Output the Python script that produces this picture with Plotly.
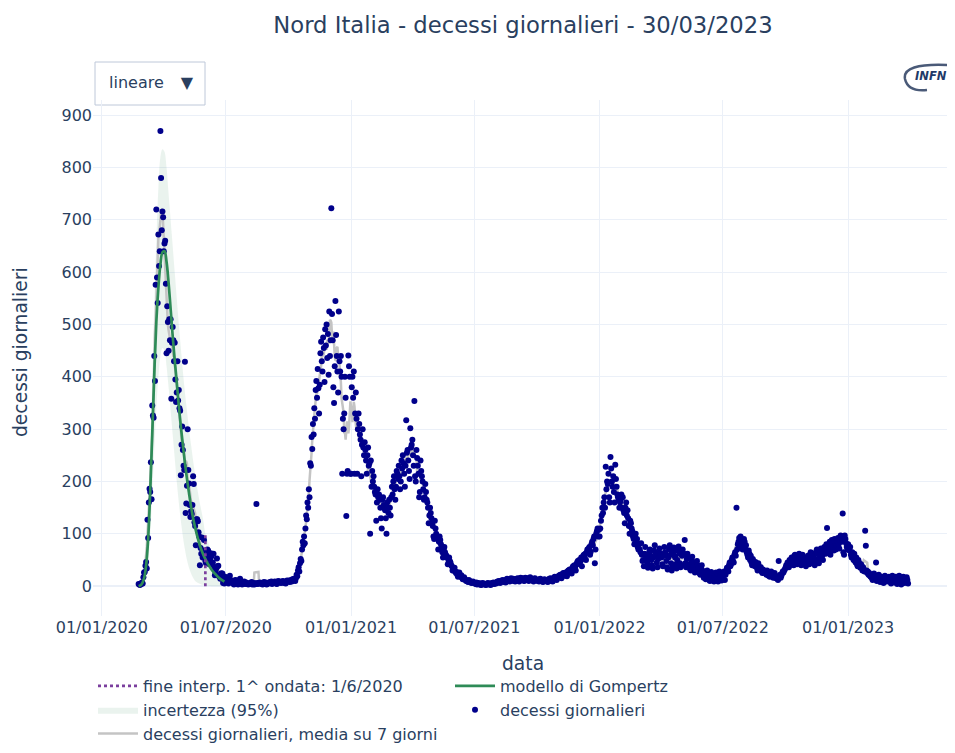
import pandas as pd
import plotly.graph_objects as go

# ---------------- daily deaths, Nord Italia ----------------
feb20 = [4, 3, 2, 5, 4, 7]
mar20 = [5, 17, 26, 27, 39, 46, 34, 127, 92, 160, 186, 180, 237, 166, 345, 326, 322, 440, 392, 576,
         720, 590, 541, 672, 612, 640, 870, 780, 680, 716, 705]
apr20 = [640, 655, 660, 578, 445, 535, 505, 450, 510, 470, 510, 358, 465, 495, 470, 430, 465, 395, 352, 370,
         430, 355, 375, 340, 335, 212, 270, 305, 260, 230]
may20 = [222, 429, 140, 158, 192, 300, 222, 196, 155, 132, 143, 138, 155, 210, 195, 122, 115, 78, 128, 128,
         124, 103, 95, 40, 73, 62, 93, 55, 68, 88, 59]
jun20 = [48, 44, 57, 70, 68, 58, 42, 52, 63, 57, 42, 45, 62, 35, 21, 27, 34, 53, 38, 39,
         19, 18, 14, 24, 24, 24, 6, 18, 5, 18]
jul20 = [15, 13, 10, 12, 5, 8, 20, 12, 10, 9, 7, 5, 3, 10, 12, 11, 8, 9, 3, 9, 12, 14, 8, 9, 3, 4, 5, 9, 7, 4, 7]
aug20 = [5, 4, 3, 4, 6, 5, 4, 8, 3, 4, 6, 3, 5, 4, 157, 6, 4, 5, 6, 7, 5, 6, 4, 3, 5, 8, 6, 4, 7, 3, 5]
sep20 = [6, 5, 7, 8, 6, 9, 4, 7, 8, 6, 9, 7, 5, 4, 8, 10, 7, 9, 8, 6, 7, 9, 10, 8, 6, 7, 5, 9, 11, 10]
oct20 = [9, 11, 8, 10, 12, 9, 13, 11, 14, 12, 10, 15, 22, 19, 30, 36, 28, 44, 52, 48,
         70, 85, 78, 95, 82, 110, 135, 128, 160, 150, 185]
nov20 = [170, 235, 230, 285, 262, 310, 290, 340, 320, 375, 392, 360, 415, 378, 330, 385, 445, 467, 430, 410,
         475, 455, 390, 491, 460, 500, 436, 482, 404, 525]
dec20 = [440, 470, 722, 520, 470, 380, 350, 420, 545, 480, 440, 410, 370, 525, 430, 410, 440, 400, 215, 320,
         300, 330, 400, 360, 134, 215, 220, 441, 420, 400, 215]
jan21 = [215, 380, 400, 360, 410, 215, 330, 370, 320, 215, 300, 330, 310, 290, 280, 210, 270, 300, 265, 250,
         275, 260, 240, 215, 250, 265, 230, 235, 100, 240, 190]
feb21 = [220, 200, 210, 190, 180, 175, 125, 160, 185, 170, 175, 165, 150, 130, 110, 165, 170, 155, 150, 145,
         130, 100, 160, 150, 140, 165, 150, 135]
mar21 = [170, 190, 175, 200, 210, 185, 165, 190, 220, 215, 205, 230, 210, 185, 200, 240, 225, 250, 235, 215,
         190, 230, 317, 255, 260, 240, 220, 205, 302, 265, 270]
apr21 = [280, 250, 230, 354, 210, 200, 260, 245, 230, 215, 170, 180, 240, 220, 210, 200, 185, 165, 170, 195,
         180, 165, 160, 150, 120, 135, 150, 140, 130, 120]
may21 = [115, 95, 90, 125, 110, 100, 95, 90, 70, 85, 95, 88, 80, 75, 65, 55, 70, 75, 65, 60,
         58, 55, 42, 50, 55, 48, 45, 40, 38, 30, 35]
jun21 = [30, 35, 28, 25, 27, 22, 18, 24, 26, 20, 18, 21, 16, 13, 15, 17, 14, 12, 10, 11, 9, 8, 12, 10, 9, 7, 6, 8, 9, 7]
jul21 = [6, 5, 4, 7, 3, 5, 6, 4, 3, 5, 2, 3, 6, 4, 5, 3, 4, 2, 3, 5, 6, 4, 3, 5, 2, 4, 6, 5, 7, 4, 5]
aug21 = [6, 5, 8, 9, 7, 10, 8, 6, 9, 11, 10, 12, 9, 8, 11, 7, 12, 14, 10, 13, 11, 9, 12, 15, 13, 11, 14, 10, 12, 9, 13]
sep21 = [14, 12, 15, 11, 9, 13, 16, 14, 12, 15, 13, 10, 11, 16, 14, 13, 15, 12, 10, 14, 17, 15, 13, 12, 11, 9, 14, 15, 13, 12]
oct21 = [12, 10, 11, 9, 13, 14, 12, 10, 9, 8, 11, 13, 10, 12, 11, 9, 8, 12, 14, 13, 15, 11, 10, 9, 14, 16, 18, 15, 13, 12, 17]
nov21 = [16, 20, 18, 22, 19, 15, 21, 24, 25, 22, 20, 26, 23, 19, 28, 30, 27, 32, 29, 25, 24, 35, 38, 33, 40, 36, 30, 42, 45, 48]
dec21 = [45, 50, 42, 48, 55, 38, 52, 58, 60, 55, 62, 50, 65, 70, 68, 72, 75, 60, 66, 80,
         85, 78, 90, 95, 44, 70, 100, 105, 110, 95, 108]
jan22 = [95, 110, 125, 135, 150, 140, 160, 170, 150, 228, 185, 200, 195, 215, 170, 160, 247, 225, 200, 190,
         210, 180, 160, 232, 205, 190, 175, 170, 165, 150, 160]
feb22 = [165, 175, 150, 170, 145, 140, 120, 150, 160, 135, 145, 130, 115, 100, 125, 120, 110, 105, 95, 90,
         80, 94, 100, 85, 90, 75, 70, 80]
mar22 = [70, 65, 82, 60, 48, 50, 38, 62, 75, 58, 52, 44, 35, 55, 66, 70, 58, 50, 40, 34,
         55, 68, 78, 64, 57, 45, 36, 52, 64, 72, 58]
apr22 = [62, 55, 42, 38, 58, 75, 65, 60, 48, 36, 32, 55, 70, 78, 60, 44, 30, 36, 66, 74,
         58, 55, 42, 34, 50, 68, 76, 62, 44, 36]
may22 = [40, 58, 70, 60, 62, 88, 44, 36, 52, 62, 55, 42, 38, 32, 30, 50, 56, 45, 38, 32,
         26, 30, 46, 48, 40, 32, 28, 24, 22, 36, 40]
jun22 = [30, 22, 16, 25, 20, 13, 24, 30, 22, 16, 12, 10, 20, 27, 22, 15, 11, 9, 15, 22, 26, 18, 13, 9, 22, 28, 20, 15, 11, 18]
jul22 = [20, 25, 28, 12, 22, 30, 35, 32, 28, 40, 45, 38, 42, 50, 55, 48, 45, 60, 65, 58,
         150, 70, 80, 85, 92, 75, 95, 88, 78, 70, 82]
aug22 = [90, 85, 72, 78, 65, 60, 55, 68, 62, 50, 58, 45, 40, 52, 48, 42, 38, 46, 40, 35,
         30, 44, 38, 34, 30, 36, 28, 25, 32, 30, 26]
sep22 = [28, 24, 22, 30, 26, 20, 25, 18, 22, 28, 24, 20, 16, 22, 25, 18, 15, 19, 14, 12,
         48, 18, 22, 16, 20, 24, 28, 26, 30, 32]
oct22 = [35, 40, 38, 45, 42, 36, 50, 48, 44, 55, 52, 46, 40, 58, 60, 54, 48, 42, 50, 56,
         62, 58, 45, 40, 52, 60, 48, 55, 50, 44, 38]
nov22 = [45, 52, 58, 48, 42, 60, 65, 55, 50, 62, 58, 45, 40, 52, 66, 70, 62, 48, 44, 55,
         68, 72, 60, 58, 50, 65, 75, 70, 62, 80]
dec22 = [111, 70, 65, 78, 85, 60, 72, 88, 80, 75, 68, 90, 82, 70, 78, 85, 92, 80, 72, 88,
         97, 95, 85, 139, 65, 60, 97, 90, 82, 75, 70]
jan23 = [80, 72, 68, 75, 60, 55, 65, 58, 50, 62, 48, 45, 55, 42, 38, 50, 45, 40, 35, 42,
         38, 30, 36, 32, 28, 106, 77, 30, 25, 28, 22]
feb23 = [25, 20, 18, 22, 15, 12, 20, 24, 18, 14, 45, 10, 16, 20, 22, 14, 8, 12, 18, 15, 10, 6, 14, 20, 16, 12, 9, 15]
mar23 = [12, 18, 14, 8, 5, 15, 20, 16, 10, 7, 12, 18, 14, 4, 9, 16, 20, 12, 8, 3, 10, 15, 18, 11, 6, 8, 14, 17, 12, 5]

month_starts = ["2020-02-24", "2020-03-01", "2020-04-01", "2020-05-01", "2020-06-01", "2020-07-01",
                "2020-08-01", "2020-09-01", "2020-10-01", "2020-11-01", "2020-12-01", "2021-01-01",
                "2021-02-01", "2021-03-01", "2021-04-01", "2021-05-01", "2021-06-01", "2021-07-01",
                "2021-08-01", "2021-09-01", "2021-10-01", "2021-11-01", "2021-12-01", "2022-01-01",
                "2022-02-01", "2022-03-01", "2022-04-01", "2022-05-01", "2022-06-01", "2022-07-01",
                "2022-08-01", "2022-09-01", "2022-10-01", "2022-11-01", "2022-12-01", "2023-01-01",
                "2023-02-01", "2023-03-01"]
month_values = [feb20, mar20, apr20, may20, jun20, jul20, aug20, sep20, oct20, nov20, dec20,
                jan21, feb21, mar21, apr21, may21, jun21, jul21, aug21, sep21, oct21, nov21, dec21,
                jan22, feb22, mar22, apr22, may22, jun22, jul22, aug22, sep22, oct22, nov22, dec22,
                jan23, feb23, mar23]

# ---------------- Gompertz model (first wave) ----------------
model_dates = ["2020-02-24", "2020-02-28", "2020-03-03", "2020-03-06", "2020-03-09", "2020-03-12",
               "2020-03-15", "2020-03-18", "2020-03-21", "2020-03-24", "2020-03-27", "2020-03-30",
               "2020-04-02", "2020-04-05", "2020-04-08", "2020-04-11", "2020-04-14", "2020-04-17",
               "2020-04-20", "2020-04-23", "2020-04-26", "2020-04-29", "2020-05-02", "2020-05-05",
               "2020-05-08", "2020-05-11", "2020-05-14", "2020-05-17", "2020-05-20", "2020-05-23",
               "2020-05-26", "2020-05-29", "2020-06-01", "2020-06-05", "2020-06-10", "2020-06-15",
               "2020-06-20", "2020-06-25", "2020-06-29"]
model_values = [0, 3, 15, 40, 90, 180, 290, 405, 505, 570, 615, 638, 640, 620, 580, 530, 478, 432, 390, 345,
                305, 270, 235, 205, 178, 152, 130, 112, 96, 82, 70, 60, 52, 42, 32, 24, 17, 12, 9]
band_upper = [0, 6, 30, 70, 140, 260, 400, 540, 660, 760, 820, 835, 830, 800, 750, 700, 650, 600, 550, 500,
              455, 410, 370, 335, 300, 270, 240, 212, 188, 165, 145, 125, 100, 85, 65, 48, 35, 25, 19]
band_lower = [0, 1, 6, 18, 45, 100, 175, 260, 340, 400, 440, 455, 450, 420, 380, 335, 290, 245, 200, 160,
              125, 95, 70, 50, 35, 24, 16, 10, 7, 5, 3, 2, 1, 1, 0, 0, 0, 0, 0]
fit_end_date = "2020-06-01"

# ---------------- build series ----------------
dates, vals = [], []
for start, arr in zip(month_starts, month_values):
    ts = pd.Timestamp(start)
    n = ts.days_in_month - ts.day + 1
    arr = arr[:n]
    dates.extend(pd.date_range(ts, periods=len(arr), freq="D"))
    vals.extend(arr)
daily = pd.Series(vals, index=pd.DatetimeIndex(dates), dtype=float)
daily = daily[~daily.index.duplicated()]
avg7 = daily.rolling(7, center=True).mean()

fit_end_top = band_upper[model_dates.index(fit_end_date)]

FONT = "DejaVu Sans"
TXT = "#2a3f5f"
OFF = 8  # page body margin
# plot area in page pixels: x 93..953, y 100..616
PL, PR, PT, PB = 93, 953, 100, 616
L, R, T, B = PL - OFF, PR - OFF, PT - OFF, PB - OFF
def px(x):
    return (x - PL) / (PR - PL)
def py(y):
    return (PB - y) / (PB - PT)

fig = go.Figure()

fig.add_trace(go.Scatter(
    x=model_dates + model_dates[::-1], y=band_upper + band_lower[::-1],
    fill="toself", fillcolor="rgba(46,139,87,0.10)", line=dict(width=0, shape="spline"),
    mode="lines", name="incertezza (95%)", legendrank=3, hoverinfo="skip"))

fig.add_trace(go.Scatter(
    x=avg7.index, y=avg7.values, mode="lines", name="decessi giornalieri, media su 7 giorni",
    line=dict(color="#C4C4C4", width=2.5), legendrank=5))

fig.add_trace(go.Scatter(
    x=daily.index, y=daily.values, mode="markers", name="decessi giornalieri",
    marker=dict(color="#00008B", size=6), legendrank=4))

fig.add_trace(go.Scatter(
    x=model_dates, y=model_values, mode="lines", name="modello di Gompertz",
    line=dict(color="#2E8B57", width=2.7, shape="spline"), legendrank=2))

fig.add_trace(go.Scatter(
    x=[fit_end_date, fit_end_date], y=[0, fit_end_top], mode="lines",
    name="fine interp. 1^ ondata: 1/6/2020",
    line=dict(color="#7B3F9E", width=2.7, dash="dot"), legendrank=1))

fig.update_layout(
    template="plotly_white",
    width=955, height=753,
    margin=dict(l=L, r=955 - R, t=T, b=753 - B, autoexpand=False),
    font=dict(family=FONT, size=16, color=TXT),
    title=dict(text="Nord Italia - decessi giornalieri - 30/03/2023", xref="paper", x=0.5,
               xanchor="center", yref="container", y=1 - 17 / 753, yanchor="middle",
               font=dict(size=22.7, family=FONT)),
    legend=dict(orientation="h", x=0, xanchor="left", y=py(669), yanchor="top",
                font=dict(size=16, family=FONT), traceorder="normal", itemwidth=40,
                entrywidth=302, entrywidthmode="pixels"),
    updatemenus=[dict(
        type="dropdown", direction="down", active=0, showactive=True,
        x=px(97), xanchor="left", y=py(67.5), yanchor="top", pad=dict(l=0, r=0, t=0, b=0),
        bgcolor="rgba(255,255,255,0)", bordercolor="rgba(0,0,0,0)", borderwidth=0,
        font=dict(size=16, family=FONT),
        buttons=[dict(label="lineare\u00a0", method="relayout", args=[{"yaxis.type": "linear"}]),
                 dict(label="log", method="relayout", args=[{"yaxis.type": "log"}])])],
    shapes=[dict(type="rect", xref="paper", yref="paper", x0=px(95), x1=px(205), y0=py(105), y1=py(62),
                 line=dict(color="#BEC8D9", width=1), fillcolor="white", layer="below")],
)

fig.update_xaxes(
    type="date", range=["2019-12-19", "2023-06-04"], automargin=False,
    tick0="2020-01-01", dtick="M6", tickformat="%d/%m/%Y",
    tickfont=dict(size=16), showgrid=True, gridcolor="#EBF0F8")
fig.update_yaxes(
    range=[-57, 929], dtick=100, tickfont=dict(size=16), automargin=False,
    gridcolor="#EBF0F8", zerolinecolor="#EBF0F8")

# axis titles
fig.add_annotation(text="data", xref="paper", yref="paper", x=0.5, y=py(663),
                   xanchor="center", yanchor="middle", showarrow=False, font=dict(size=18.7, color=TXT))
fig.add_annotation(text="decessi giornalieri", xref="paper", yref="paper", x=px(20), y=py(352),
                   xanchor="center", yanchor="middle", textangle=-90, showarrow=False,
                   font=dict(size=18.7, color=TXT))

# INFN logo (swoosh + text)
fig.add_shape(type="path", xref="paper", yref="paper",
              path=f"M {px(948)},{py(65)} Q {px(902)},{py(63)} {px(905)},{py(79)} Q {px(908)},{py(92)} {px(927)},{py(90)}",
              line=dict(color="#4A5A78", width=2.5))
fig.add_annotation(text="<b><i>INFN</i></b>", xref="paper", yref="paper", x=px(931), y=py(76),
                   xanchor="center", yanchor="middle", showarrow=False,
                   font=dict(size=11.5, color="#1F3A68", family=FONT))

fig.write_html("out.html")
